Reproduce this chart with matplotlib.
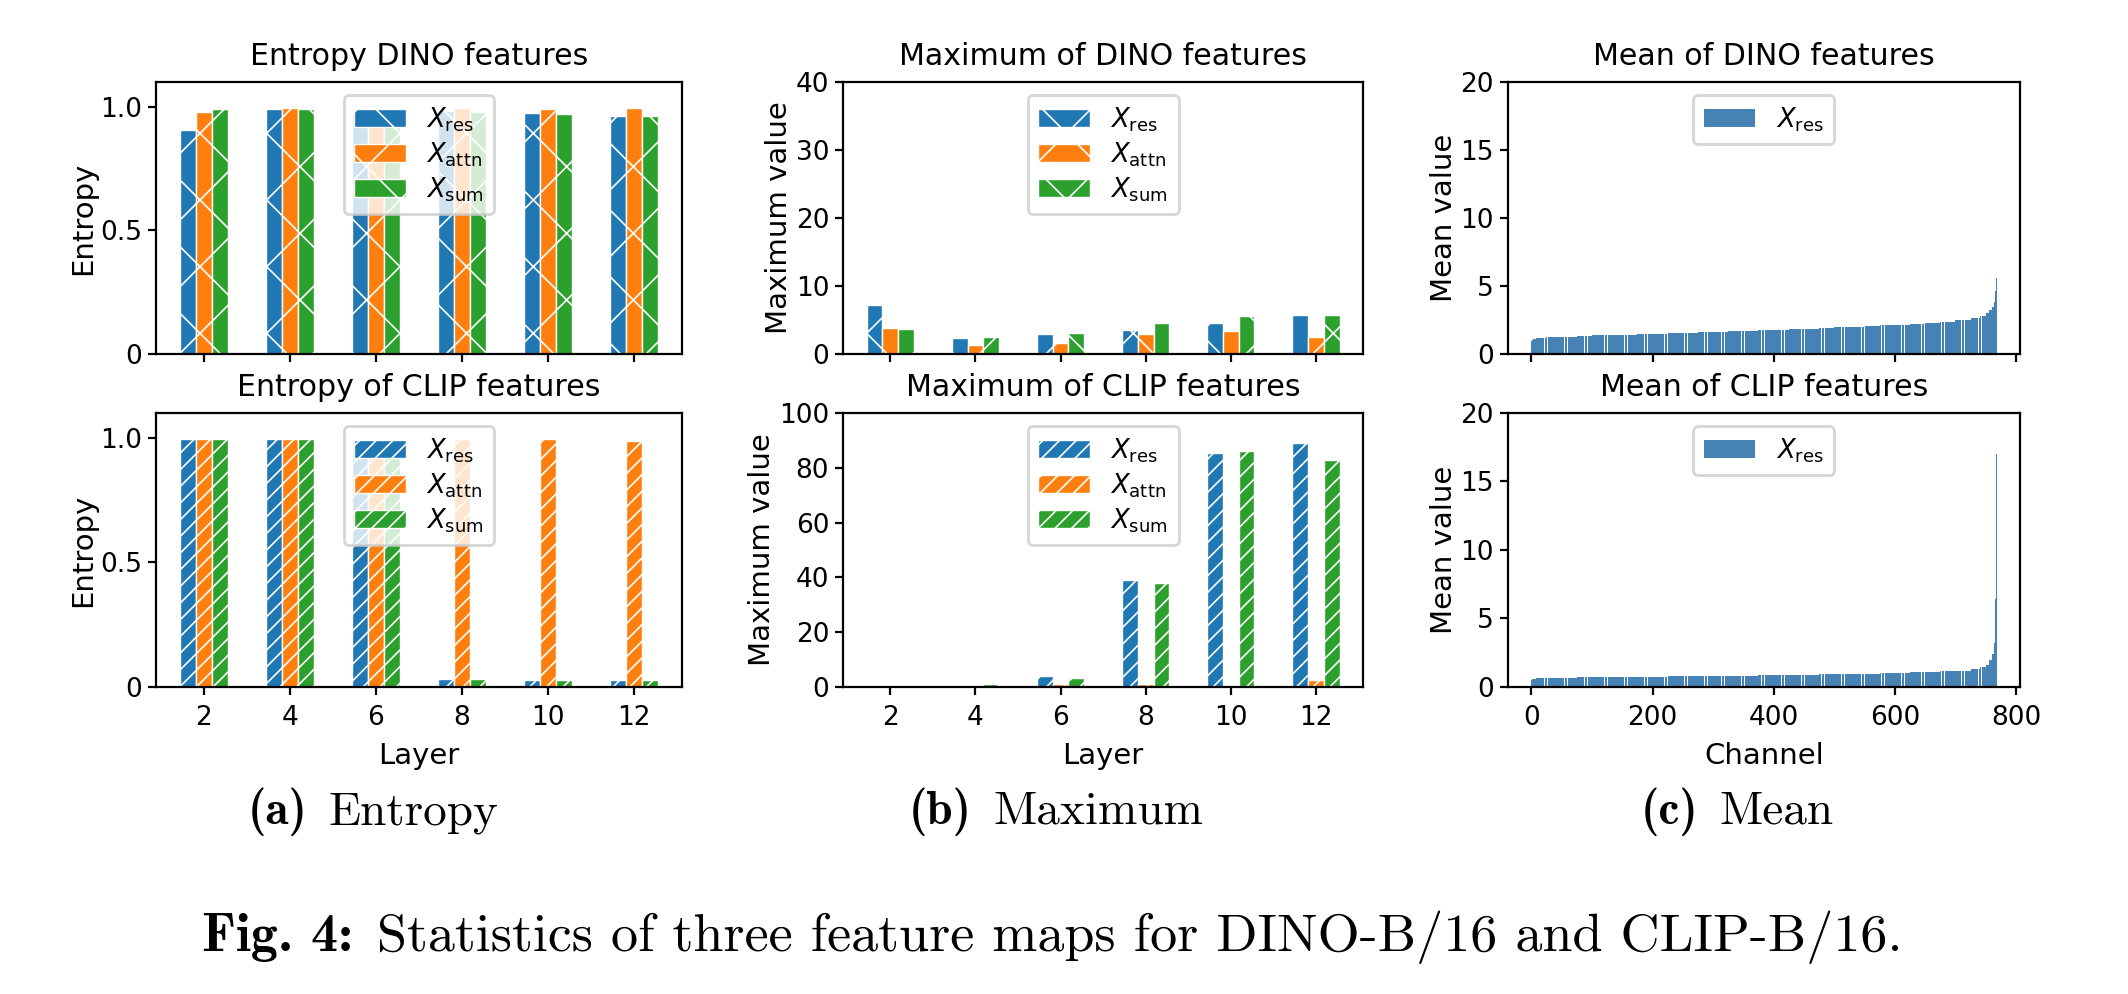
import numpy as np
import matplotlib.pyplot as plt

layers = [2, 4, 6, 8, 10, 12]
labels = [r"$X_{\rm res}$", r"$X_{\rm attn}$", r"$X_{\rm sum}$"]
colors = ["tab:blue", "tab:orange", "tab:green"]

# entropy
dino_ent_res = [0.907, 0.992, 0.988, 0.984, 0.974, 0.962]
dino_ent_attn = [0.980, 0.996, 0.990, 0.993, 0.992, 0.995]
dino_ent_sum = [0.992, 0.992, 0.988, 0.980, 0.970, 0.961]
clip_ent_res = [0.997, 0.997, 0.997, 0.031, 0.027, 0.027]
clip_ent_attn = [0.997, 0.997, 0.997, 0.997, 0.997, 0.986]
clip_ent_sum = [0.997, 0.997, 0.997, 0.031, 0.027, 0.027]

# maximum
dino_max_res = [7.2, 2.4, 2.9, 3.5, 4.5, 5.7]
dino_max_attn = [3.8, 1.3, 1.6, 2.9, 3.4, 2.5]
dino_max_sum = [3.6, 2.5, 3.1, 4.5, 5.6, 5.8]
clip_max_res = [0.7, 0.7, 4.0, 39.0, 85.2, 89.2]
clip_max_attn = [0.3, 0.5, 0.9, 1.1, 0.5, 2.5]
clip_max_sum = [0.7, 1.0, 3.1, 37.8, 86.0, 82.8]

# mean per channel (sorted), read as runs: run lengths + value of each run
run_len = [1, 2, 5, 7, 10] + [25] * 28 + [15, 10, 5, 5, 3, 2, 1, 1, 1]
dino_mean_runs = [0.95, 1.05, 1.12, 1.16, 1.19,
                  1.23, 1.27, 1.32, 1.36, 1.40, 1.43, 1.47, 1.50, 1.53, 1.56,
                  1.60, 1.63, 1.67, 1.70, 1.74, 1.78, 1.82, 1.86, 1.90, 1.95,
                  2.00, 2.05, 2.10, 2.16, 2.22, 2.29, 2.37, 2.47,
                  2.62, 2.80, 3.00, 3.20, 3.45, 3.80, 4.10, 4.60, 5.55]
clip_mean_runs = [0.52, 0.57, 0.60, 0.62, 0.63,
                  0.65, 0.67, 0.69, 0.71, 0.72, 0.73, 0.75, 0.76, 0.77, 0.78,
                  0.80, 0.81, 0.82, 0.83, 0.85, 0.86, 0.88, 0.90, 0.92, 0.94,
                  0.96, 0.98, 1.01, 1.03, 1.07, 1.11, 1.15, 1.20,
                  1.28, 1.42, 1.62, 1.95, 2.40, 3.20, 4.20, 6.40, 17.0]

dino_mean = np.repeat(dino_mean_runs, run_len)
clip_mean = np.repeat(clip_mean_runs, run_len)
channels = np.arange(len(dino_mean))

plt.rcParams["hatch.linewidth"] = 0.6

fig = plt.figure(figsize=(10.64, 4.97), dpi=200)
fs_title = 10.8
fs_label = 10.5
fs_tick = 9.5
fs_leg = 9.3

lefts = [0.0733, 0.3962, 0.7086]
widths = [0.2472, 0.2444, 0.2406]
bottoms = [0.6439, 0.3089]
heights = [0.2736, 0.2757]

axes = [[fig.add_axes([lefts[c], bottoms[r], widths[c], heights[r]]) for c in range(3)] for r in range(2)]

def style(ax):
    for s in ax.spines.values():
        s.set_linewidth(0.8)
    ax.tick_params(labelsize=fs_tick, length=3, width=0.8)
    ax.tick_params(axis="y", pad=2)

def grouped(ax, res, attn, s, hatch, title, ylim, yticks, ylabel, ytl=None):
    w = 0.37
    x = np.array(layers)
    for i, (vals, lab, col) in enumerate(zip([res, attn, s], labels, colors)):
        ax.bar(x + (i - 1) * w, vals, w, color=col, edgecolor="white", linewidth=0.5,
               hatch=hatch, label=lab)
    ax.set_title(title, fontsize=fs_title)
    ax.set_ylim(*ylim)
    if ytl is None:
        ax.set_yticks(yticks)
    else:
        ax.set_yticks(yticks, ytl)
    ax.set_xticks(layers)
    ax.set_ylabel(ylabel, fontsize=fs_label, labelpad=1)
    ax.legend(loc="upper center", fontsize=fs_leg, labelspacing=0.25)
    style(ax)

grouped(axes[0][0], dino_ent_res, dino_ent_attn, dino_ent_sum, "x", "Entropy DINO features",
        (0, 1.1), [0, 0.5, 1.0], "Entropy", ["0", "0.5", "1.0"])
grouped(axes[1][0], clip_ent_res, clip_ent_attn, clip_ent_sum, "////", "Entropy of CLIP features",
        (0, 1.1), [0, 0.5, 1.0], "Entropy", ["0", "0.5", "1.0"])
grouped(axes[0][1], dino_max_res, dino_max_attn, dino_max_sum, "x", "Maximum of DINO features",
        (0, 40), [0, 10, 20, 30, 40], "Maximum value")
grouped(axes[1][1], clip_max_res, clip_max_attn, clip_max_sum, "////", "Maximum of CLIP features",
        (0, 100), [0, 20, 40, 60, 80, 100], "Maximum value")

for ax, vals, title in [(axes[0][2], dino_mean, "Mean of DINO features"),
                        (axes[1][2], clip_mean, "Mean of CLIP features")]:
    ax.bar(channels, vals, width=0.9, color="steelblue", label=r"$X_{\rm res}$")
    ax.set_title(title, fontsize=fs_title)
    ax.set_ylim(0, 20)
    ax.set_yticks([0, 5, 10, 15, 20])
    ax.set_xticks([0, 200, 400, 600, 800])
    ax.set_ylabel("Mean value", fontsize=fs_label, labelpad=1)
    ax.legend(loc="upper center", fontsize=fs_leg)
    style(ax)

for c in range(3):
    axes[0][c].tick_params(labelbottom=False)
axes[1][0].set_xlabel("Layer", fontsize=fs_label)
axes[1][1].set_xlabel("Layer", fontsize=fs_label)
axes[1][2].set_xlabel("Channel", fontsize=fs_label)

# captions: bold part + roman part, centred together
W = 2128
renderer = fig.canvas.get_renderer()

def caption(xc, yb, bold, rest, size):
    t1 = fig.text(0, 1 - yb / 994, bold, family="cmb10", fontsize=size, va="baseline")
    t2 = fig.text(0, 1 - yb / 994, rest, family="cmr10", fontsize=size, va="baseline")
    w1 = t1.get_window_extent(renderer).width
    w2 = t2.get_window_extent(renderer).width
    gap = 0.45 * size * 200 / 72
    x0 = xc - (w1 + gap + w2) / 2
    t1.set_x(x0 / W)
    t2.set_x((x0 + w1 + gap) / W)

caption(373, 824, "(a)", "Entropy", 17)
caption(1056, 824, "(b)", "Maximum", 17)
caption(1737, 824, "(c)", "Mean", 17)
caption(1052, 951, "Fig. 4:", "Statistics of three feature maps for DINO-B/16 and CLIP-B/16.", 19.5)

fig.savefig("out.png", dpi=200)
